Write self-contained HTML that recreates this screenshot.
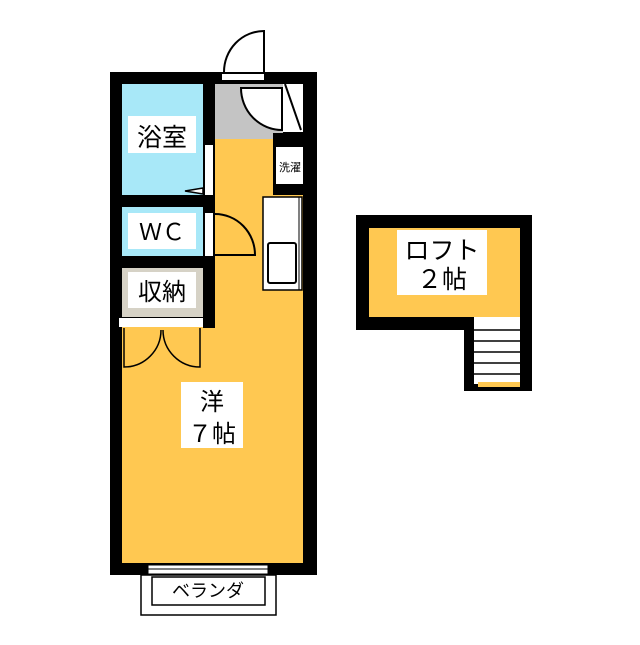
<!DOCTYPE html><html><head><meta charset="utf-8"><style>body{margin:0;background:#fff}svg text{font-family:"Liberation Sans","Noto Sans CJK JP",sans-serif}</style></head><body>
<svg width="640" height="640" viewBox="0 0 640 640" xmlns="http://www.w3.org/2000/svg">
<rect x="110" y="72" width="207" height="503" fill="#000"/>
<rect x="215" y="139" width="88" height="424" fill="#FFC851"/>
<rect x="122" y="327" width="181" height="236" fill="#FFC851"/>
<rect x="215" y="84" width="68" height="55" fill="#C4C4C4"/>
<rect x="283" y="84" width="20" height="48" fill="#fff"/>
<line x1="285" y1="84" x2="301" y2="130" stroke="#000" stroke-width="2"/>
<path d="M241 88 H282 V130 A41 42 0 0 1 241 88 Z" fill="#fff" stroke="#000" stroke-width="2"/>
<rect x="122" y="84" width="81" height="111" fill="#A8E8F8"/>
<rect x="122" y="207" width="81" height="49" fill="#A8E8F8"/>
<rect x="122" y="268" width="81" height="49" fill="#D6D2C6"/>
<rect x="119" y="318" width="84" height="9" fill="#fff"/>
<rect x="203" y="139" width="12" height="189" fill="#000"/>
<rect x="205" y="145" width="8" height="50" fill="#fff"/>
<rect x="205" y="213" width="8" height="43" fill="#fff"/>
<path d="M203 188 L185 191 L203 194 Z" fill="#fff" stroke="#000" stroke-width="1.5"/>
<path d="M215 214 A40 41 0 0 1 255 255 H215" fill="none" stroke="#000" stroke-width="2"/>
<rect x="273" y="133" width="32" height="62" fill="#000"/>
<rect x="276" y="147" width="27" height="37" fill="#fff"/>
<rect x="263" y="197" width="39" height="93" fill="#fff" stroke="#000" stroke-width="1.5"/>
<line x1="299" y1="197" x2="299" y2="290" stroke="#000" stroke-width="1"/>
<rect x="268" y="243" width="28" height="40" fill="#fff" stroke="#000" stroke-width="2" rx="2"/>
<rect x="222" y="74" width="42" height="6" fill="#fff"/>
<path d="M264 72 V31 A40 41 0 0 0 224 72" fill="none" stroke="#000" stroke-width="2"/>
<rect x="222" y="72" width="42" height="2" fill="#000"/>
<path d="M124 328 V367 A37 37 0 0 0 161 330 M200 328 V367 A37 37 0 0 1 163 330" fill="none" stroke="#000" stroke-width="1.5"/>
<rect x="148" y="565" width="120" height="9" fill="#fff" stroke="#000" stroke-width="1"/>
<line x1="148" y1="569" x2="268" y2="569" stroke="#000" stroke-width="1"/>
<rect x="141" y="575" width="135" height="40" fill="#fff" stroke="#000" stroke-width="1.5"/>
<rect x="152" y="577" width="113" height="28" fill="#fff" stroke="#000" stroke-width="1.5"/>
<rect x="128" y="116" width="68" height="37" fill="#fff"/>
<text x="162" y="146" font-size="25" text-anchor="middle">浴室</text>
<rect x="128" y="213" width="68" height="36" fill="#fff"/>
<text x="162" y="240" font-size="23" text-anchor="middle">ＷＣ</text>
<rect x="128" y="272" width="68" height="36" fill="#fff"/>
<text x="162" y="300" font-size="24" text-anchor="middle">収納</text>
<text x="290" y="171" font-size="11" text-anchor="middle">洗濯</text>
<rect x="181" y="382" width="62" height="66" fill="#fff"/>
<text x="212" y="410" font-size="24" text-anchor="middle">洋</text>
<text x="212" y="442" font-size="24" text-anchor="middle">７帖</text>
<text x="208" y="597" font-size="18" text-anchor="middle">ベランダ</text>
<rect x="356" y="215" width="176" height="115" fill="#000"/>
<rect x="464" y="317" width="68" height="74" fill="#000"/>
<rect x="369" y="228" width="151" height="89" fill="#FFC851"/>
<rect x="474" y="317" width="46" height="67" fill="#fff"/>
<rect x="478" y="382" width="42" height="5" fill="#FFC851"/>
<g stroke="#000" stroke-width="1.5"><line x1="474" y1="330" x2="520" y2="330"/><line x1="474" y1="341" x2="520" y2="341"/><line x1="474" y1="352" x2="520" y2="352"/><line x1="474" y1="363" x2="520" y2="363"/><line x1="474" y1="374" x2="520" y2="374"/></g>
<rect x="397" y="230" width="90" height="65" fill="#fff"/>
<text x="442" y="259" font-size="25" text-anchor="middle">ロフト</text>
<text x="442" y="288" font-size="25" text-anchor="middle">２帖</text>
</svg></body></html>
